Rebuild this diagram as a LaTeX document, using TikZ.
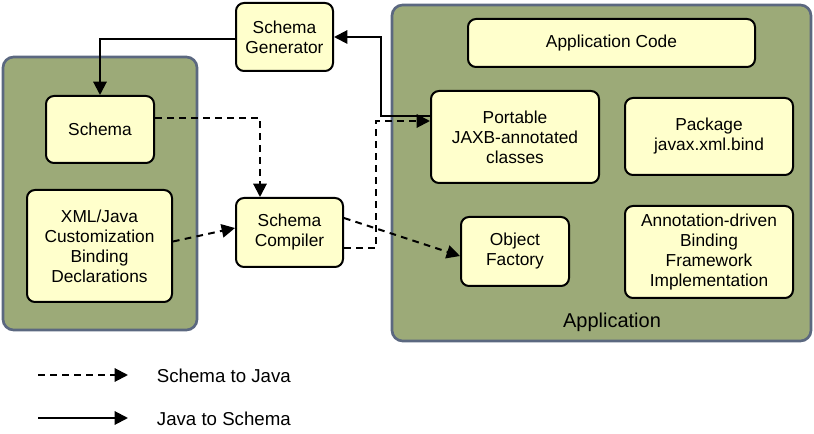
\documentclass[tikz,border=0pt]{standalone}
\usepackage{fontspec}
\setmainfont{Liberation Sans}
\usetikzlibrary{arrows.meta,positioning}
\definecolor{boxgreen}{HTML}{9CAA78}
\definecolor{boxedge}{HTML}{5B6880}
\definecolor{nodefill}{HTML}{FFFFCC}
\tikzset{every picture/.style={line width=0.75pt}}
\tikzset{
  comp/.style={draw=black,fill=nodefill,rounded corners=6pt,align=center,font=\fontsize{13}{15}\selectfont,inner sep=0pt,line width=1.5pt},
  area/.style={draw=boxedge,fill=boxgreen,rounded corners=8pt,line width=2pt},
  s2j/.style={dashed,dash pattern={on 5pt off 4pt},line width=1.5pt,-{Triangle[length=10pt,width=10pt]}},
  j2s/.style={line width=1.5pt,-{Triangle[length=10pt,width=10pt]}},
}
\begin{document}
\begin{tikzpicture}[x=0.75pt,y=0.75pt,yscale=-1,xscale=1]
	\useasboundingbox (0,0) rectangle (814,434);
	
	% containers
	\draw [area] (3,57) rectangle (197,330);
	\draw [area] (392,5) rectangle (811,341);
	\node (applbl) at (612,322) {\fontsize{15}{18}\selectfont Application};
	
	% components
	\node [comp,minimum width=97*0.75pt,minimum height=68*0.75pt] (gen) at (284.5,37) {Schema\\Generator};
	\node [comp,minimum width=108*0.75pt,minimum height=67*0.75pt] (schema) at (100,129.5) {Schema};
	\node [comp,minimum width=145*0.75pt,minimum height=112*0.75pt] (xjb) at (99.5,246) {XML/Java\\Customization\\Binding\\Declarations};
	\node [comp,minimum width=107*0.75pt,minimum height=69*0.75pt] (xjc) at (289.5,232.5) {Schema\\Compiler};
	\node [comp,minimum width=287*0.75pt,minimum height=48*0.75pt] (code) at (611.5,43) {Application Code};
	\node [comp,minimum width=168*0.75pt,minimum height=92*0.75pt] (classes) at (515,137) {Portable\\JAXB-annotated\\classes};
	\node [comp,minimum width=168*0.75pt,minimum height=77*0.75pt] (bind) at (709,136.5) {Package\\javax.xml.bind};
	\node [comp,minimum width=108*0.75pt,minimum height=69*0.75pt] (factory) at (515,251.5) {Object\\Factory};
	\node [comp,minimum width=168*0.75pt,minimum height=92*0.75pt] (impl) at (709,252) {Annotation-driven\\Binding\\Framework\\Implementation};
	
	% connectors
	\draw [j2s] ([yshift=-21*0.75pt]classes.west) -- ++(-49,0) |- (gen.east);
	\draw [j2s] ([yshift=2*0.75pt]gen.west) -| (schema.north);
	\draw [s2j] ([yshift=-11*0.75pt]schema.east) -| ([xshift=-29.5*0.75pt]xjc.north);
	\draw [s2j] ([yshift=-4.5*0.75pt]xjb.east) -- ([yshift=-4.5*0.75pt]xjc.west);
	\draw [s2j] ([yshift=15.5*0.75pt]xjc.east) -- ++(32,0) |- ([yshift=-16*0.75pt]classes.west);
	\draw [s2j] ([yshift=-14.5*0.75pt]xjc.east) -- ([yshift=4.5*0.75pt]factory.west);
	
	% legend
	\coordinate (l1a) at (38,375);
	\coordinate (l1b) at (128,375);
	\coordinate (l2a) at (38,418);
	\coordinate (l2b) at (128,418);
	\draw [s2j] (l1a) -- (l1b);
	\draw [j2s] (l2a) -- (l2b);
	\node [anchor=west,font=\fontsize{14}{16}\selectfont] (lg1) at (152,376) {Schema to Java};
	\node [anchor=west,font=\fontsize{14}{16}\selectfont] (lg2) at (152,419) {Java to Schema};
	
\end{tikzpicture}
\end{document}
